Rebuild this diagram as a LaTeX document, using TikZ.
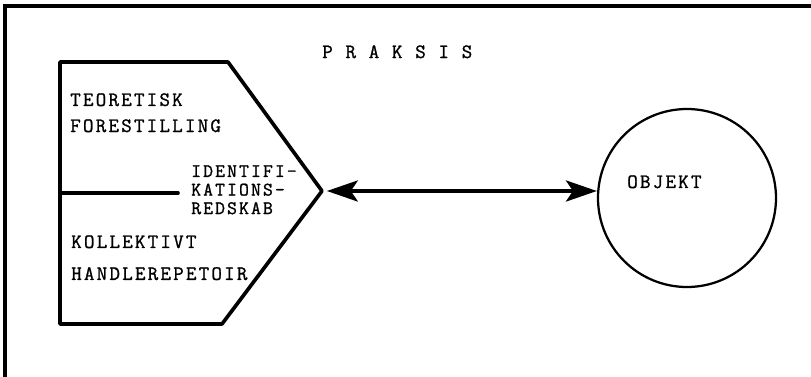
\documentclass[tikz,border=0pt]{standalone}
\usepackage{fontspec}
\newfontfamily\typew[LetterSpace=11,FakeBold=1.2]{Latin Modern Mono}
\usetikzlibrary{arrows.meta}
\tikzset{
  frame/.style={line width=2.2pt,line cap=round},
  boxline/.style={line width=2.6pt,line cap=round,line join=round},
  txt/.style={anchor=north west,inner sep=0pt,align=left,
    font=\typew\fontsize{14.5}{18.5}\selectfont},
  smalltxt/.style={txt,font=\typew\fontsize{13.6}{13.2}\selectfont},
  link/.style={line width=2.4pt,{Stealth[length=22pt,width=15pt,inset=5pt]}-{Stealth[length=22pt,width=15pt,inset=5pt]}}
}
\begin{document}
\begin{tikzpicture}[x=0.025cm,y=-0.025cm] % praksis: tool between theory and object
   \useasboundingbox (0,0) rectangle (811,376);
   \draw[frame] (5,380) -- (5,6) -- (815,6);
   \node[txt] (praksis) at (322,45) {P R A K S I S};
   % the tool
   \coordinate (tip) at (322,191);
   \draw[boxline] (60,62) -- (228,62) -- (tip) -- (222,324) -- (60,324) -- cycle;
   \coordinate (split) at (60,193);
   \draw[boxline] (split) -- ++(118,0);
   \node[txt] (teori) at (70,93) {TEORETISK\\FORESTILLING};
   \node[smalltxt] (redskab) at (191,165) {IDENTIFI-\\KATIONS-\\REDSKAB};
   \node[txt,font=\typew\fontsize{14.5}{22.7}\selectfont] (kollektiv) at (71,235) {KOLLEKTIVT\\HANDLEREPETOIR};
   % the object
   \node[draw,circle,line width=1.6pt,minimum size=178*0.025cm] (objekt) at (687,198) {};
   \node[txt] (objlabel) at (627,175) {OBJEKT};
   \draw[link,shorten <=3.5pt] (tip) -- (tip -| objekt.west);
\end{tikzpicture}
\end{document}
